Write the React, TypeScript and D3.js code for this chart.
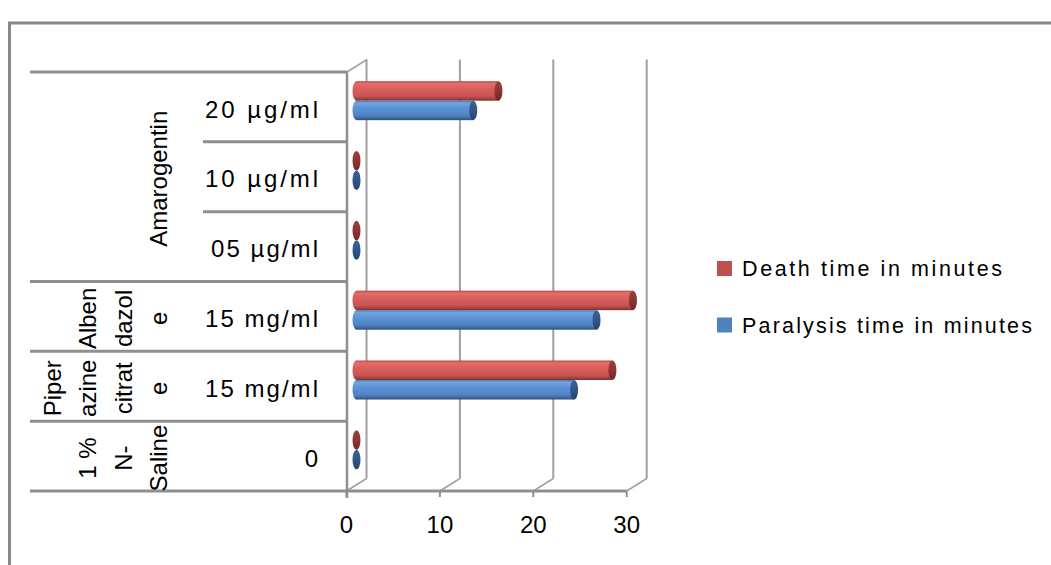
import React from "react";
import * as d3 from "d3";

// ---- data (top row first) ----
const concentrationLabels = ["20  µg/ml", "10  µg/ml", "05 µg/ml", "15 mg/ml", "15 mg/ml", "0"];
const rowGroup = ["Amarogentin", "Amarogentin", "Amarogentin", "Albendazole", "Piperazine citrate", "1 % N-Saline"];
const groupNames = ["Amarogentin", "Albendazole", "Piperazine citrate", "1 % N-Saline"];
const groupLabelLines = [["Amarogentin"], ["Alben", "dazol", "e"], ["Piper", "azine", "citrat", "e"], ["1 %", "N-", "Saline"]];
const deathTime = [15.2, 0, 0, 29.6, 27.4, 0];
const paralysisTime = [12.5, 0, 0, 25.7, 23.3, 0];
const xTicks = [0, 10, 20, 30];
const seriesNames = ["Death time in minutes", "Paralysis time in minutes"];

// ---- layout ----
const W = 1051, H = 565;
const plotTop = 72, plotBottom = 491;
const depthDx = 20, depthDy = -12.5;
const catLeft = 30, subLeft = 203, axisX = 347;
const barH = 19.5;
const labelFont = "'Liberation Sans', Arial, sans-serif";
const gridColor = "#8f8f8f";

const conceptWidths = [113, 113, 107, 113, 113, 0];
const legendWidths = [260, 290];

export default function App() {
  const x = d3.scaleLinear().domain([0, 30]).range([346.5, 626.7]);
  const y = d3.scaleBand<number>().domain(d3.range(concentrationLabels.length)).range([plotTop, plotBottom]).padding(0);
  const bw = y.bandwidth();

  const spans = groupNames.map((g) => {
    const idx = rowGroup.map((r, i) => (r === g ? i : -1)).filter((i) => i >= 0);
    const y0 = y(idx[0])!;
    const y1 = y(idx[idx.length - 1])! + bw;
    return { g, y0, y1 };
  });

  const midDx = depthDx / 2, midDy = depthDy / 2;

  const cyl = (v: number, yt: number, kind: "red" | "blue", key: string) => {
    const x0 = x(0) + midDx;
    const x1 = x(v) + midDx;
    const cy = yt + barH / 2;
    const body = kind === "red" ? "url(#gRed)" : "url(#gBlue)";
    const cap = kind === "red" ? "url(#gRedCap)" : "url(#gBlueCap)";
    return (
      <g key={key}>
        {v > 0 && <ellipse cx={x0} cy={cy} rx={4} ry={barH / 2} fill={body} />}
        {v > 0 && <rect x={x0} y={yt} width={x1 - x0} height={barH} fill={body} />}
        <ellipse cx={x1} cy={cy} rx={4} ry={barH / 2} fill={cap} />
      </g>
    );
  };

  return (
    <svg width={W} height={H} style={{ display: "block", position: "absolute", left: 0, top: 0, background: "#fff" }}>
      <defs>
        <linearGradient id="gRed" x1="0" y1="0" x2="0" y2="1">
          <stop offset="0%" stopColor="#b84845" />
          <stop offset="12%" stopColor="#e46d6a" />
          <stop offset="40%" stopColor="#d75e5b" />
          <stop offset="75%" stopColor="#c95552" />
          <stop offset="90%" stopColor="#a6423f" />
          <stop offset="100%" stopColor="#7a2d2b" />
        </linearGradient>
        <linearGradient id="gBlue" x1="0" y1="0" x2="0" y2="1">
          <stop offset="0%" stopColor="#4a79b3" />
          <stop offset="12%" stopColor="#74a4e0" />
          <stop offset="40%" stopColor="#5b92d5" />
          <stop offset="75%" stopColor="#5183c3" />
          <stop offset="90%" stopColor="#3e6aa0" />
          <stop offset="100%" stopColor="#2b4a74" />
        </linearGradient>
        <linearGradient id="gRedCap" x1="0" y1="0" x2="0" y2="1">
          <stop offset="0%" stopColor="#9a403d" />
          <stop offset="50%" stopColor="#8b3634" />
          <stop offset="100%" stopColor="#6e2927" />
        </linearGradient>
        <linearGradient id="gBlueCap" x1="0" y1="0" x2="0" y2="1">
          <stop offset="0%" stopColor="#3a639a" />
          <stop offset="50%" stopColor="#2f5789" />
          <stop offset="100%" stopColor="#244470" />
        </linearGradient>
      </defs>

      {/* outer frame */}
      <path d={`M9.5,${H} V23 H${W}`} fill="none" stroke="#888" strokeWidth={3} />

      {/* back wall gridlines and floor */}
      {xTicks.map((t) => (
        <g key={"g" + t}>
          <line x1={x(t) + depthDx} x2={x(t) + depthDx} y1={plotTop + depthDy} y2={plotBottom + depthDy} stroke="#a0a0a0" strokeWidth={2} />
          <line x1={x(t)} x2={x(t) + depthDx} y1={plotBottom} y2={plotBottom + depthDy} stroke="#a0a0a0" strokeWidth={1.5} />
          <line x1={x(t)} x2={x(t)} y1={plotBottom} y2={plotBottom + 6} stroke={gridColor} strokeWidth={2} />
        </g>
      ))}

      {/* left wall */}
      <line x1={axisX} x2={axisX} y1={plotTop} y2={plotBottom + 7} stroke={gridColor} strokeWidth={2.5} />
      <line x1={axisX} x2={axisX + depthDx} y1={plotTop} y2={plotTop + depthDy} stroke="#a0a0a0" strokeWidth={1.5} />

      {/* category lines */}
      {d3.range(concentrationLabels.length + 1).map((i) => {
        const yy = i < concentrationLabels.length ? y(i)! : plotBottom;
        const isGroupEdge = i === 0 || i === concentrationLabels.length || rowGroup[i] !== rowGroup[i - 1];
        return (
          <line key={"c" + i} x1={isGroupEdge ? catLeft : subLeft} x2={i === concentrationLabels.length ? x(30) : axisX} y1={yy} y2={yy} stroke={gridColor} strokeWidth={3} />
        );
      })}

      {/* bars */}
      {concentrationLabels.map((_, i) => {
        const yc = y(i)! + bw / 2 + midDy;
        return (
          <g key={"b" + i}>
            {cyl(deathTime[i], yc - barH, "red", "r" + i)}
            {cyl(paralysisTime[i], yc, "blue", "p" + i)}
          </g>
        );
      })}

      {/* concentration labels */}
      {concentrationLabels.map((lab, i) => (
        <text key={"l" + i} x={318} y={y(i)! + bw / 2 + 10.7} textAnchor="end" fontFamily={labelFont} fontSize={24} fill="#000"
          {...(conceptWidths[i] > 0 ? { textLength: conceptWidths[i], lengthAdjust: "spacing" } : {})}>
          {lab}
        </text>
      ))}

      {/* group labels (rotated) */}
      {spans.map((s, gi) => {
        const lines = groupLabelLines[gi];
        const cy = (s.y0 + s.y1) / 2;
        return lines.map((ln, li) => {
          const bx = 167 - (lines.length - 1 - li) * 35.5;
          return (
            <text key={"gl" + gi + "-" + li} transform={`translate(${bx},${cy + 2}) rotate(-90)`} textAnchor="middle" fontFamily={labelFont} fontSize={24} fill="#000">
              {ln}
            </text>
          );
        });
      })}

      {/* x tick labels */}
      {xTicks.map((t) => (
        <text key={"t" + t} x={x(t)} y={533} textAnchor="middle" fontFamily={labelFont} fontSize={24} fill="#000">
          {t}
        </text>
      ))}

      {/* legend */}
      {seriesNames.map((s, i) => (
        <g key={"lg" + i}>
          <rect x={717} y={261 + i * 56.5} width={15} height={15} fill={i === 0 ? "#c0504d" : "#4f81bd"} />
          <text x={742} y={276 + i * 56.5} fontFamily={labelFont} fontSize={21.5} fill="#000" textLength={legendWidths[i]} lengthAdjust="spacing">
            {s}
          </text>
        </g>
      ))}
    </svg>
  );
}
